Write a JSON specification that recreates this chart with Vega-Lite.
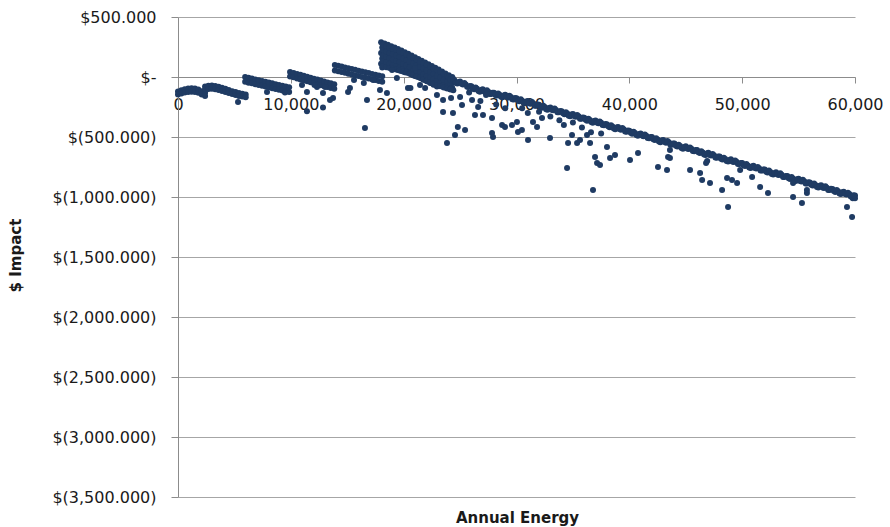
{
  "$schema": "https://vega.github.io/schema/vega-lite/v6.json",
  "width": 677,
  "height": 480,
  "autosize": "none",
  "padding": {"left": 178, "top": 17, "right": 35, "bottom": 30},
  "background": "white",
  "config": {"view": {"stroke": null}},
  "data": {"values": [
    {"energy":0,"impact":-120},{"energy":0,"impact":-145},{"energy":300,"impact":-110},{"energy":300,"impact":-138},{"energy":600,"impact":-102},{"energy":600,"impact":-130},{"energy":900,"impact":-96},{"energy":900,"impact":-124},{"energy":1200,"impact":-94},{"energy":1200,"impact":-122},{"energy":1500,"impact":-96},{"energy":1500,"impact":-124},{"energy":1800,"impact":-105},{"energy":1800,"impact":-132},{"energy":2100,"impact":-118},{"energy":2100,"impact":-145},{"energy":2400,"impact":-132},{"energy":2400,"impact":-158},
    {"energy":2400,"impact":-80},{"energy":2400,"impact":-105},{"energy":2700,"impact":-72},{"energy":2700,"impact":-100},{"energy":3000,"impact":-70},{"energy":3000,"impact":-98},{"energy":3300,"impact":-74},{"energy":3300,"impact":-102},{"energy":3600,"impact":-82},{"energy":3600,"impact":-108},{"energy":3900,"impact":-90},{"energy":3900,"impact":-116},{"energy":4200,"impact":-98},{"energy":4200,"impact":-124},{"energy":4500,"impact":-108},{"energy":4500,"impact":-134},{"energy":4800,"impact":-118},{"energy":4800,"impact":-142},{"energy":5100,"impact":-126},{"energy":5100,"impact":-150},{"energy":5400,"impact":-134},{"energy":5400,"impact":-158},{"energy":5700,"impact":-140},{"energy":5700,"impact":-162},{"energy":6000,"impact":-146},{"energy":6000,"impact":-168},{"energy":5320,"impact":-208},
    {"energy":5950,"impact":0},{"energy":5950,"impact":-40},{"energy":6250,"impact":-7},{"energy":6250,"impact":-47},{"energy":6550,"impact":-13},{"energy":6550,"impact":-53},{"energy":6850,"impact":-20},{"energy":6850,"impact":-60},{"energy":7150,"impact":-27},{"energy":7150,"impact":-67},{"energy":7450,"impact":-33},{"energy":7450,"impact":-73},{"energy":7750,"impact":-40},{"energy":7750,"impact":-80},{"energy":8050,"impact":-46},{"energy":8050,"impact":-86},{"energy":8350,"impact":-53},{"energy":8350,"impact":-93},{"energy":8650,"impact":-60},{"energy":8650,"impact":-100},{"energy":8950,"impact":-66},{"energy":8950,"impact":-106},{"energy":9250,"impact":-73},{"energy":9250,"impact":-113},{"energy":9550,"impact":-80},{"energy":9550,"impact":-120},{"energy":9850,"impact":-86},{"energy":9850,"impact":-126},{"energy":7890,"impact":-125},{"energy":9480,"impact":-130},
    {"energy":9930,"impact":42},{"energy":9930,"impact":5},{"energy":10250,"impact":34},{"energy":10250,"impact":-3},{"energy":10550,"impact":26},{"energy":10550,"impact":-12},{"energy":10850,"impact":18},{"energy":10850,"impact":-20},{"energy":11150,"impact":10},{"energy":11150,"impact":-28},{"energy":11450,"impact":2},{"energy":11450,"impact":-36},{"energy":11750,"impact":-6},{"energy":11750,"impact":-44},{"energy":12050,"impact":-14},{"energy":12050,"impact":-52},{"energy":12350,"impact":-21},{"energy":12350,"impact":-60},{"energy":12650,"impact":-29},{"energy":12650,"impact":-68},{"energy":12950,"impact":-37},{"energy":12950,"impact":-76},{"energy":13250,"impact":-45},{"energy":13250,"impact":-84},{"energy":13550,"impact":-53},{"energy":13550,"impact":-92},{"energy":13850,"impact":-61},{"energy":13850,"impact":-98},
    {"energy":10990,"impact":-67},{"energy":11430,"impact":-125},{"energy":12320,"impact":-83},{"energy":12850,"impact":-133},{"energy":13030,"impact":-83},{"energy":13740,"impact":-175},{"energy":11430,"impact":-285},{"energy":12850,"impact":-255},{"energy":13470,"impact":-192},{"energy":12100,"impact":-67},
    {"energy":13900,"impact":100},{"energy":13900,"impact":55},{"energy":14200,"impact":93},{"energy":14200,"impact":48},{"energy":14500,"impact":87},{"energy":14500,"impact":42},{"energy":14800,"impact":80},{"energy":14800,"impact":35},{"energy":15100,"impact":73},{"energy":15100,"impact":28},{"energy":15400,"impact":66},{"energy":15400,"impact":21},{"energy":15700,"impact":60},{"energy":15700,"impact":15},{"energy":16000,"impact":53},{"energy":16000,"impact":8},{"energy":16300,"impact":46},{"energy":16300,"impact":1},{"energy":16600,"impact":39},{"energy":16600,"impact":-6},{"energy":16900,"impact":33},{"energy":16900,"impact":-12},{"energy":17200,"impact":26},{"energy":17200,"impact":-19},{"energy":17500,"impact":19},{"energy":17500,"impact":-26},{"energy":17800,"impact":12},{"energy":17800,"impact":-33},{"energy":18100,"impact":6},{"energy":18100,"impact":-39},
    {"energy":15070,"impact":-125},{"energy":15240,"impact":-92},{"energy":15600,"impact":-25},{"energy":16470,"impact":-50},{"energy":16750,"impact":-192},{"energy":16570,"impact":-425},{"energy":17900,"impact":-108},{"energy":18520,"impact":-133},{"energy":17300,"impact":-25},
    {"energy":18000,"impact":290},{"energy":18100,"impact":245},{"energy":18000,"impact":200},{"energy":18100,"impact":155},{"energy":18000,"impact":110},{"energy":18100,"impact":80},
    {"energy":18300,"impact":279},{"energy":18400,"impact":234},{"energy":18300,"impact":189},{"energy":18400,"impact":144},{"energy":18300,"impact":99},
    {"energy":18600,"impact":268},{"energy":18700,"impact":223},{"energy":18600,"impact":178},{"energy":18700,"impact":133},{"energy":18600,"impact":88},
    {"energy":18900,"impact":257},{"energy":19000,"impact":212},{"energy":18900,"impact":167},{"energy":19000,"impact":122},{"energy":18900,"impact":80},
    {"energy":19200,"impact":246},{"energy":19300,"impact":201},{"energy":19200,"impact":156},{"energy":19300,"impact":111},{"energy":19200,"impact":66},
    {"energy":19500,"impact":234},{"energy":19600,"impact":189},{"energy":19500,"impact":144},{"energy":19600,"impact":99},{"energy":19500,"impact":58},
    {"energy":19800,"impact":221},{"energy":19900,"impact":176},{"energy":19800,"impact":131},{"energy":19900,"impact":86},{"energy":19800,"impact":50},
    {"energy":20100,"impact":207},{"energy":20200,"impact":162},{"energy":20100,"impact":117},{"energy":20200,"impact":72},{"energy":20100,"impact":40},
    {"energy":20400,"impact":193},{"energy":20500,"impact":148},{"energy":20400,"impact":103},{"energy":20500,"impact":58},{"energy":20400,"impact":35},
    {"energy":20700,"impact":179},{"energy":20800,"impact":134},{"energy":20700,"impact":89},{"energy":20800,"impact":44},{"energy":20700,"impact":20},
    {"energy":21000,"impact":165},{"energy":21100,"impact":120},{"energy":21000,"impact":75},{"energy":21100,"impact":30},{"energy":21000,"impact":8},
    {"energy":21300,"impact":150},{"energy":21400,"impact":105},{"energy":21300,"impact":60},{"energy":21400,"impact":15},{"energy":21300,"impact":0},
    {"energy":21600,"impact":135},{"energy":21700,"impact":90},{"energy":21600,"impact":45},{"energy":21700,"impact":0},{"energy":21600,"impact":-12},
    {"energy":21900,"impact":121},{"energy":22000,"impact":76},{"energy":21900,"impact":31},{"energy":22000,"impact":-14},{"energy":21900,"impact":-25},
    {"energy":22200,"impact":106},{"energy":22300,"impact":61},{"energy":22200,"impact":16},{"energy":22300,"impact":-29},{"energy":22200,"impact":-38},
    {"energy":22500,"impact":92},{"energy":22600,"impact":47},{"energy":22500,"impact":2},{"energy":22600,"impact":-43},{"energy":22500,"impact":-50},
    {"energy":22800,"impact":78},{"energy":22900,"impact":33},{"energy":22800,"impact":-12},{"energy":22900,"impact":-57},{"energy":22800,"impact":-62},
    {"energy":23100,"impact":63},{"energy":23200,"impact":18},{"energy":23100,"impact":-27},{"energy":23200,"impact":-72},
    {"energy":23400,"impact":45},{"energy":23500,"impact":0},{"energy":23400,"impact":-45},{"energy":23500,"impact":-82},
    {"energy":23700,"impact":30},{"energy":23800,"impact":-15},{"energy":23700,"impact":-60},{"energy":23800,"impact":-92},
    {"energy":24000,"impact":15},{"energy":24100,"impact":-30},{"energy":24000,"impact":-75},{"energy":24100,"impact":-100},
    {"energy":24300,"impact":0},{"energy":24400,"impact":-45},{"energy":24300,"impact":-90},{"energy":24400,"impact":-110},
    {"energy":18150,"impact":268},{"energy":18150,"impact":223},{"energy":18150,"impact":178},{"energy":18150,"impact":133},{"energy":18150,"impact":90},
    {"energy":18450,"impact":257},{"energy":18450,"impact":212},{"energy":18450,"impact":167},{"energy":18450,"impact":122},{"energy":18450,"impact":82},
    {"energy":18750,"impact":246},{"energy":18750,"impact":201},{"energy":18750,"impact":156},{"energy":18750,"impact":111},{"energy":18750,"impact":75},
    {"energy":19050,"impact":235},{"energy":19050,"impact":190},{"energy":19050,"impact":145},{"energy":19050,"impact":100},{"energy":19050,"impact":70},
    {"energy":19350,"impact":224},{"energy":19350,"impact":179},{"energy":19350,"impact":134},{"energy":19350,"impact":89},{"energy":19350,"impact":62},
    {"energy":19650,"impact":212},{"energy":19650,"impact":167},{"energy":19650,"impact":122},{"energy":19650,"impact":77},{"energy":19650,"impact":54},
    {"energy":19950,"impact":199},{"energy":19950,"impact":154},{"energy":19950,"impact":109},{"energy":19950,"impact":64},{"energy":19950,"impact":45},
    {"energy":20250,"impact":185},{"energy":20250,"impact":140},{"energy":20250,"impact":95},{"energy":20250,"impact":50},{"energy":20250,"impact":38},
    {"energy":20550,"impact":171},{"energy":20550,"impact":126},{"energy":20550,"impact":81},{"energy":20550,"impact":36},{"energy":20550,"impact":28},
    {"energy":20850,"impact":157},{"energy":20850,"impact":112},{"energy":20850,"impact":67},{"energy":20850,"impact":22},{"energy":20850,"impact":14},
    {"energy":21150,"impact":143},{"energy":21150,"impact":98},{"energy":21150,"impact":53},{"energy":21150,"impact":8},{"energy":21150,"impact":4},
    {"energy":21450,"impact":128},{"energy":21450,"impact":83},{"energy":21450,"impact":38},{"energy":21450,"impact":-7},{"energy":21450,"impact":-5},
    {"energy":21750,"impact":113},{"energy":21750,"impact":68},{"energy":21750,"impact":23},{"energy":21750,"impact":-22},{"energy":21750,"impact":-18},
    {"energy":22050,"impact":99},{"energy":22050,"impact":54},{"energy":22050,"impact":9},{"energy":22050,"impact":-36},{"energy":22050,"impact":-32},
    {"energy":22350,"impact":84},{"energy":22350,"impact":39},{"energy":22350,"impact":-6},{"energy":22350,"impact":-51},{"energy":22350,"impact":-44},
    {"energy":22650,"impact":70},{"energy":22650,"impact":25},{"energy":22650,"impact":-20},{"energy":22650,"impact":-65},{"energy":22650,"impact":-56},
    {"energy":22950,"impact":56},{"energy":22950,"impact":11},{"energy":22950,"impact":-34},{"energy":22950,"impact":-79},{"energy":22950,"impact":-67},
    {"energy":23250,"impact":41},{"energy":23250,"impact":-4},{"energy":23250,"impact":-49},{"energy":23250,"impact":-77},
    {"energy":23550,"impact":23},{"energy":23550,"impact":-22},{"energy":23550,"impact":-67},{"energy":23550,"impact":-87},
    {"energy":23850,"impact":8},{"energy":23850,"impact":-37},{"energy":23850,"impact":-82},{"energy":23850,"impact":-96},
    {"energy":24150,"impact":-7},{"energy":24150,"impact":-52},{"energy":24150,"impact":-97},{"energy":24150,"impact":-105},
    {"energy":24000,"impact":-2},{"energy":24250,"impact":-30},{"energy":24500,"impact":-28},{"energy":24750,"impact":-54},{"energy":25000,"impact":-38},{"energy":25250,"impact":-63},{"energy":25500,"impact":-62},{"energy":25750,"impact":-84},{"energy":26000,"impact":-77},{"energy":26250,"impact":-103},{"energy":26500,"impact":-98},{"energy":26750,"impact":-122},{"energy":27000,"impact":-103},{"energy":27250,"impact":-125},{"energy":27500,"impact":-122},{"energy":27750,"impact":-142},{"energy":28000,"impact":-132},{"energy":28250,"impact":-155},{"energy":28500,"impact":-148},{"energy":28750,"impact":-169},{"energy":29000,"impact":-148},{"energy":29250,"impact":-170},{"energy":29500,"impact":-167},{"energy":29750,"impact":-187},
    {"energy":30000,"impact":-177},{"energy":30250,"impact":-202},{"energy":30500,"impact":-197},{"energy":30750,"impact":-219},{"energy":31000,"impact":-200},{"energy":31250,"impact":-223},{"energy":31500,"impact":-220},{"energy":31750,"impact":-240},{"energy":32000,"impact":-231},{"energy":32250,"impact":-256},{"energy":32500,"impact":-251},{"energy":32750,"impact":-273},{"energy":33000,"impact":-254},{"energy":33250,"impact":-277},{"energy":33500,"impact":-274},{"energy":33750,"impact":-294},{"energy":34000,"impact":-285},{"energy":34250,"impact":-310},{"energy":34500,"impact":-305},{"energy":34750,"impact":-327},{"energy":35000,"impact":-308},{"energy":35250,"impact":-331},{"energy":35500,"impact":-328},{"energy":35750,"impact":-348},{"energy":36000,"impact":-339},{"energy":36250,"impact":-364},{"energy":36500,"impact":-359},{"energy":36750,"impact":-381},{"energy":37000,"impact":-362},{"energy":37250,"impact":-385},{"energy":37500,"impact":-382},{"energy":37750,"impact":-402},{"energy":38000,"impact":-393},{"energy":38250,"impact":-418},{"energy":38500,"impact":-413},{"energy":38750,"impact":-435},{"energy":39000,"impact":-416},{"energy":39250,"impact":-439},{"energy":39500,"impact":-436},{"energy":39750,"impact":-456},
    {"energy":40000,"impact":-447},{"energy":40250,"impact":-472},{"energy":40500,"impact":-467},{"energy":40750,"impact":-489},{"energy":41000,"impact":-470},{"energy":41250,"impact":-493},{"energy":41500,"impact":-490},{"energy":41750,"impact":-510},{"energy":42000,"impact":-501},{"energy":42250,"impact":-526},{"energy":42500,"impact":-521},{"energy":42750,"impact":-543},{"energy":43000,"impact":-524},{"energy":43250,"impact":-547},{"energy":43500,"impact":-544},{"energy":43750,"impact":-564},{"energy":44000,"impact":-555},{"energy":44250,"impact":-580},{"energy":44500,"impact":-575},{"energy":44750,"impact":-597},{"energy":45000,"impact":-578},{"energy":45250,"impact":-601},{"energy":45500,"impact":-598},{"energy":45750,"impact":-618},{"energy":46000,"impact":-609},{"energy":46250,"impact":-634},{"energy":46500,"impact":-629},{"energy":46750,"impact":-651},{"energy":47000,"impact":-632},{"energy":47250,"impact":-655},{"energy":47500,"impact":-652},{"energy":47750,"impact":-672},{"energy":48000,"impact":-663},{"energy":48250,"impact":-688},{"energy":48500,"impact":-683},{"energy":48750,"impact":-705},{"energy":49000,"impact":-686},{"energy":49250,"impact":-709},{"energy":49500,"impact":-706},{"energy":49750,"impact":-726},
    {"energy":50000,"impact":-717},{"energy":50250,"impact":-742},{"energy":50500,"impact":-737},{"energy":50750,"impact":-759},{"energy":51000,"impact":-740},{"energy":51250,"impact":-763},{"energy":51500,"impact":-760},{"energy":51750,"impact":-780},{"energy":52000,"impact":-771},{"energy":52250,"impact":-796},{"energy":52500,"impact":-791},{"energy":52750,"impact":-813},{"energy":53000,"impact":-794},{"energy":53250,"impact":-817},{"energy":53500,"impact":-814},{"energy":53750,"impact":-834},{"energy":54000,"impact":-825},{"energy":54250,"impact":-850},{"energy":54500,"impact":-845},{"energy":54750,"impact":-867},{"energy":55000,"impact":-848},{"energy":55250,"impact":-871},{"energy":55500,"impact":-868},{"energy":55750,"impact":-888},{"energy":56000,"impact":-879},{"energy":56250,"impact":-904},{"energy":56500,"impact":-899},{"energy":56750,"impact":-921},{"energy":57000,"impact":-902},{"energy":57250,"impact":-925},{"energy":57500,"impact":-922},{"energy":57750,"impact":-942},{"energy":58000,"impact":-933},{"energy":58250,"impact":-958},{"energy":58500,"impact":-953},{"energy":58750,"impact":-975},{"energy":59000,"impact":-956},{"energy":59250,"impact":-979},{"energy":59500,"impact":-976},{"energy":59750,"impact":-996},{"energy":60000,"impact":-987},{"energy":59900,"impact":-1005},{"energy":59800,"impact":-1010},{"energy":60000,"impact":-1010},
    {"energy":24125,"impact":-21},{"energy":24375,"impact":-15},{"energy":24625,"impact":-47},{"energy":24875,"impact":-41},{"energy":25125,"impact":-57},{"energy":25375,"impact":-50},{"energy":25625,"impact":-82},{"energy":25875,"impact":-75},{"energy":26125,"impact":-95},{"energy":26375,"impact":-87},{"energy":26625,"impact":-116},{"energy":26875,"impact":-108},{"energy":27125,"impact":-120},{"energy":27375,"impact":-111},{"energy":27625,"impact":-141},{"energy":27875,"impact":-131},{"energy":28125,"impact":-149},{"energy":28375,"impact":-138},{"energy":28625,"impact":-165},{"energy":28875,"impact":-154},{"energy":29125,"impact":-165},{"energy":29375,"impact":-156},{"energy":29625,"impact":-186},{"energy":29875,"impact":-176},
    {"energy":30125,"impact":-195},{"energy":30375,"impact":-186},{"energy":30625,"impact":-214},{"energy":30875,"impact":-205},{"energy":31125,"impact":-218},{"energy":31375,"impact":-209},{"energy":31625,"impact":-239},{"energy":31875,"impact":-230},{"energy":32125,"impact":-249},{"energy":32375,"impact":-240},{"energy":32625,"impact":-268},{"energy":32875,"impact":-259},{"energy":33125,"impact":-272},{"energy":33375,"impact":-263},{"energy":33625,"impact":-293},{"energy":33875,"impact":-284},{"energy":34125,"impact":-303},{"energy":34375,"impact":-294},{"energy":34625,"impact":-322},{"energy":34875,"impact":-313},{"energy":35125,"impact":-326},{"energy":35375,"impact":-317},{"energy":35625,"impact":-347},{"energy":35875,"impact":-338},{"energy":36125,"impact":-357},{"energy":36375,"impact":-348},{"energy":36625,"impact":-376},{"energy":36875,"impact":-367},{"energy":37125,"impact":-380},{"energy":37375,"impact":-371},{"energy":37625,"impact":-401},{"energy":37875,"impact":-392},{"energy":38125,"impact":-411},{"energy":38375,"impact":-402},{"energy":38625,"impact":-430},{"energy":38875,"impact":-421},{"energy":39125,"impact":-434},{"energy":39375,"impact":-425},{"energy":39625,"impact":-455},{"energy":39875,"impact":-446},
    {"energy":40125,"impact":-465},{"energy":40375,"impact":-456},{"energy":40625,"impact":-484},{"energy":40875,"impact":-475},{"energy":41125,"impact":-488},{"energy":41375,"impact":-479},{"energy":41625,"impact":-509},{"energy":41875,"impact":-500},{"energy":42125,"impact":-519},{"energy":42375,"impact":-510},{"energy":42625,"impact":-538},{"energy":42875,"impact":-529},{"energy":43125,"impact":-542},{"energy":43375,"impact":-533},{"energy":43625,"impact":-563},{"energy":43875,"impact":-554},{"energy":44125,"impact":-573},{"energy":44375,"impact":-564},{"energy":44625,"impact":-592},{"energy":44875,"impact":-583},{"energy":45125,"impact":-596},{"energy":45375,"impact":-587},{"energy":45625,"impact":-617},{"energy":45875,"impact":-608},{"energy":46125,"impact":-627},{"energy":46375,"impact":-618},{"energy":46625,"impact":-646},{"energy":46875,"impact":-637},{"energy":47125,"impact":-650},{"energy":47375,"impact":-641},{"energy":47625,"impact":-671},{"energy":47875,"impact":-662},{"energy":48125,"impact":-681},{"energy":48375,"impact":-672},{"energy":48625,"impact":-700},{"energy":48875,"impact":-691},{"energy":49125,"impact":-704},{"energy":49375,"impact":-695},{"energy":49625,"impact":-725},{"energy":49875,"impact":-716},
    {"energy":50125,"impact":-735},{"energy":50375,"impact":-726},{"energy":50625,"impact":-754},{"energy":50875,"impact":-745},{"energy":51125,"impact":-758},{"energy":51375,"impact":-749},{"energy":51625,"impact":-779},{"energy":51875,"impact":-770},{"energy":52125,"impact":-789},{"energy":52375,"impact":-780},{"energy":52625,"impact":-808},{"energy":52875,"impact":-799},{"energy":53125,"impact":-812},{"energy":53375,"impact":-803},{"energy":53625,"impact":-833},{"energy":53875,"impact":-824},{"energy":54125,"impact":-843},{"energy":54375,"impact":-834},{"energy":54625,"impact":-862},{"energy":54875,"impact":-853},{"energy":55125,"impact":-866},{"energy":55375,"impact":-857},{"energy":55625,"impact":-887},{"energy":55875,"impact":-878},{"energy":56125,"impact":-897},{"energy":56375,"impact":-888},{"energy":56625,"impact":-916},{"energy":56875,"impact":-907},{"energy":57125,"impact":-920},{"energy":57375,"impact":-911},{"energy":57625,"impact":-941},{"energy":57875,"impact":-932},{"energy":58125,"impact":-951},{"energy":58375,"impact":-942},{"energy":58625,"impact":-970},{"energy":58875,"impact":-961},{"energy":59125,"impact":-974},{"energy":59375,"impact":-965},{"energy":59625,"impact":-995},{"energy":59875,"impact":-986},
    {"energy":18970,"impact":58},{"energy":19400,"impact":-8},{"energy":20380,"impact":-92},{"energy":20600,"impact":-92},{"energy":21000,"impact":75},{"energy":21450,"impact":-67},{"energy":21900,"impact":-92},{"energy":22950,"impact":-150},{"energy":23490,"impact":-192},{"energy":23490,"impact":-292},{"energy":24370,"impact":-300},{"energy":24200,"impact":-175},{"energy":25000,"impact":-167},{"energy":25170,"impact":-233},{"energy":24800,"impact":-417},{"energy":24550,"impact":-483},{"energy":23840,"impact":-550},{"energy":25440,"impact":-442},{"energy":26060,"impact":-192},{"energy":26320,"impact":-317},{"energy":26600,"impact":-250},{"energy":27030,"impact":-317},{"energy":27830,"impact":-342},{"energy":27830,"impact":-467},{"energy":27920,"impact":-500},{"energy":28720,"impact":-400},{"energy":29600,"impact":-400},{"energy":27300,"impact":-150},{"energy":25800,"impact":-130},{"energy":26800,"impact":-200},{"energy":28200,"impact":-230},{"energy":29000,"impact":-260},
    {"energy":28980,"impact":-417},{"energy":30040,"impact":-375},{"energy":30130,"impact":-458},{"energy":30480,"impact":-442},{"energy":31020,"impact":-525},{"energy":31460,"impact":-375},{"energy":31820,"impact":-417},{"energy":32260,"impact":-342},{"energy":32970,"impact":-508},{"energy":34480,"impact":-758},{"energy":34570,"impact":-550},{"energy":34920,"impact":-483},{"energy":35370,"impact":-550},{"energy":35630,"impact":-525},{"energy":36250,"impact":-483},{"energy":36520,"impact":-550},{"energy":36780,"impact":-942},{"energy":36960,"impact":-667},{"energy":37140,"impact":-717},{"energy":37400,"impact":-733},{"energy":38020,"impact":-583},{"energy":38290,"impact":-675},{"energy":38730,"impact":-650},{"energy":40060,"impact":-692},{"energy":40770,"impact":-633},{"energy":42540,"impact":-750},{"energy":43340,"impact":-775},{"energy":43430,"impact":-667},{"energy":43600,"impact":-608},{"energy":33000,"impact":-330},{"energy":33800,"impact":-360},{"energy":35000,"impact":-380},{"energy":35800,"impact":-420},{"energy":36600,"impact":-460},{"energy":37500,"impact":-470},{"energy":34200,"impact":-400},{"energy":31000,"impact":-300},{"energy":32000,"impact":-290},{"energy":30500,"impact":-260},
    {"energy":43600,"impact":-675},{"energy":45380,"impact":-775},{"energy":46270,"impact":-800},{"energy":46450,"impact":-858},{"energy":47150,"impact":-883},{"energy":46800,"impact":-717},{"energy":46900,"impact":-700},{"energy":48220,"impact":-942},{"energy":48750,"impact":-1083},{"energy":48660,"impact":-842},{"energy":49100,"impact":-858},{"energy":49550,"impact":-883},{"energy":49820,"impact":-775},{"energy":50880,"impact":-833},{"energy":51590,"impact":-917},{"energy":52290,"impact":-967},{"energy":54510,"impact":-1000},{"energy":55300,"impact":-1050},{"energy":55740,"impact":-967},{"energy":55740,"impact":-942},{"energy":54510,"impact":-883},{"energy":59290,"impact":-1083},{"energy":59740,"impact":-1167}
  ]},
  "mark": {"type": "point", "filled": true, "size": 36, "opacity": 1, "color": "#1f3b63", "strokeWidth": 0},
  "encoding": {
    "x": {
      "field": "energy", "type": "quantitative",
      "scale": {"domain": [0, 60000], "nice": false, "zero": false},
      "axis": {
        "values": [0, 10000, 20000, 30000, 40000, 50000, 60000],
        "format": ",d",
        "offset": -420,
        "grid": false,
        "domainColor": "#8c8c8c",
        "tickColor": "#8c8c8c",
        "tickSize": 6,
        "labelPadding": 13,
        "labelFlush": false,
        "labelOverlap": false,
        "labelFont": "DejaVu Sans",
        "labelFontSize": 16,
        "labelColor": "#1a1a1a",
        "title": "Annual Energy",
        "titleFont": "DejaVu Sans",
        "titleFontWeight": "bold",
        "titleFontSize": 15,
        "titleColor": "#1a1a1a",
        "titleX": 339,
        "titleY": 440,
        "titleAlign": "center",
        "titleBaseline": "middle"
      }
    },
    "y": {
      "field": "impact", "type": "quantitative",
      "scale": {"domain": [-3500, 500], "nice": false, "zero": false},
      "axis": {
        "values": [-3500, -3000, -2500, -2000, -1500, -1000, -500, 0, 500],
        "labelExpr": "datum.value == 500 ? '$500.000' : datum.value == 0 ? '$-\u00a0\u00a0' : '$(' + format(-datum.value, ',') + '.000)'",
        "grid": true,
        "gridColor": "#a6a6a6",
        "gridWidth": 1,
        "domainColor": "#8c8c8c",
        "tickColor": "#8c8c8c",
        "tickSize": 7,
        "labelPadding": 15,
        "labelOverlap": false,
        "labelFont": "DejaVu Sans",
        "labelFontSize": 16,
        "labelColor": "#1a1a1a",
        "title": "$ Impact",
        "titleFont": "DejaVu Sans",
        "titleFontWeight": "bold",
        "titleFontSize": 15,
        "titleColor": "#1a1a1a",
        "titleAngle": -90,
        "titleX": -163,
        "titleY": 238,
        "titleAlign": "center",
        "titleBaseline": "middle"
      }
    }
  }
}
